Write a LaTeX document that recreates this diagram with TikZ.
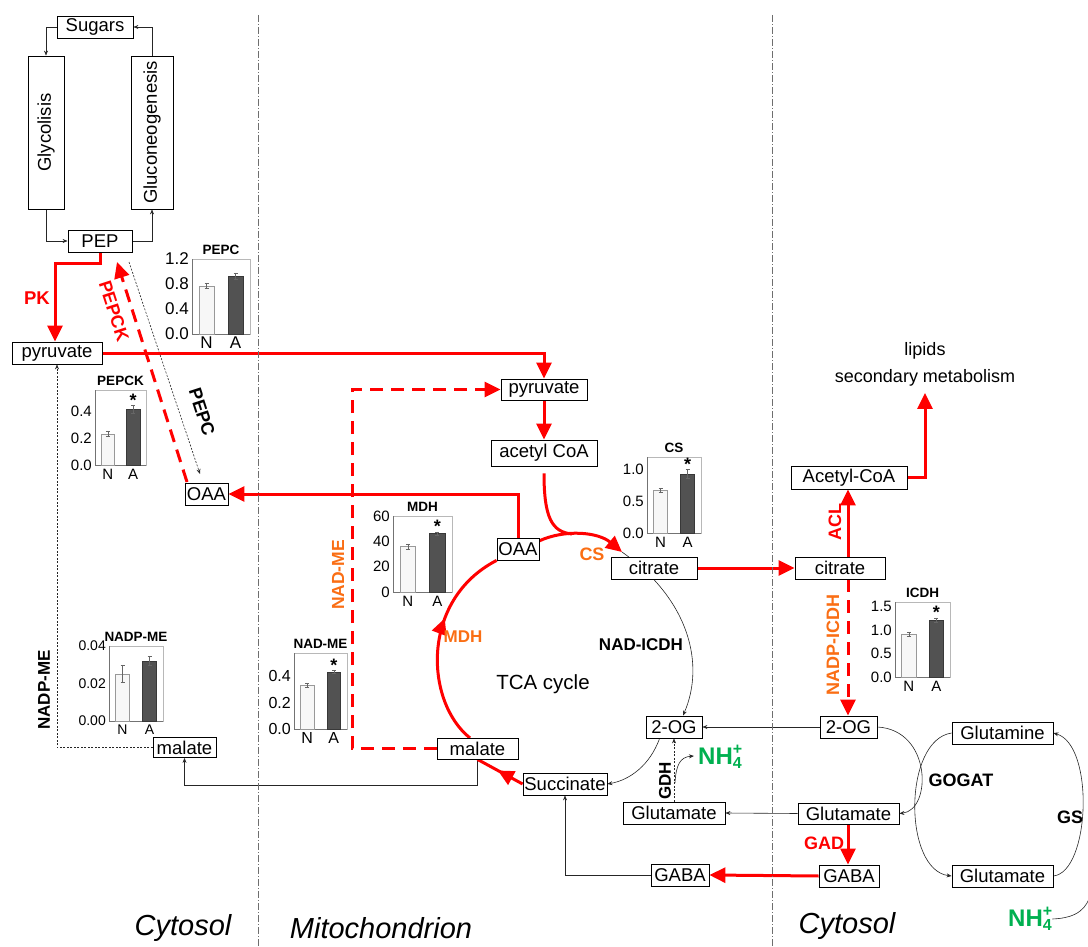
\documentclass[tikz,border=0pt]{standalone}
\usepackage{fontspec}
\setmainfont{Liberation Sans}
\usetikzlibrary{arrows.meta,calc,decorations.markings}
\definecolor{rd}{RGB}{255,0,0}
\definecolor{org}{RGB}{250,110,20}
\definecolor{grn}{RGB}{0,176,80}
\definecolor{divgray}{RGB}{110,110,110}
\newcommand{\fs}[1]{\fontsize{#1}{#1}\selectfont}
\newcommand{\nhfour}{NH\rlap{\raisebox{-0.35ex}{\fs{16}4}}\raisebox{0.75ex}{\fs{16}+}}
\pgfdeclarelayer{bg}
\pgfsetlayers{bg,main}
\tikzset{
 box/.style={draw, line width=0.8pt, fill=white, inner sep=0pt, font=\fs{18.5}},
 redline/.style={draw=rd, line width=3pt},
 redarr/.style={redline, -{Triangle[width=15pt,length=16pt]}},
 reddash/.style={redarr, dash pattern=on 13pt off 8pt},
 thinline/.style={draw=black!85, line width=0.6pt},
 thinarr/.style={thinline, -{Stealth[length=5pt,width=4pt]}},
 dotarr/.style={thinarr, dash pattern=on 2pt off 1.5pt},
 divider/.style={draw=divgray, line width=0.8pt, dash pattern=on 7pt off 2pt on 1pt off 2pt},
 lblred/.style={text=rd, font=\bfseries\fs{17.5}},
 lblorg/.style={text=org, font=\bfseries\fs{17.5}},
 lblblk/.style={font=\bfseries\fs{16.5}},
 chframe/.style={draw=black!28, line width=0.7pt},
 chaxis/.style={draw=black!55, line width=0.8pt},
 barN/.style={fill=black!3, draw=black!40, line width=0.6pt},
 barA/.style={fill=black!68, draw=black!78, line width=0.6pt},
 errbar/.style={draw=black!60, line width=0.5pt},
 chtitle/.style={font=\bfseries\fs{13.5}},
 nhlbl/.style={text=grn, font=\bfseries\fs{24}, anchor=west, inner sep=0pt},
 comp/.style={font=\itshape\fs{29}},
 midarrow/.style={postaction={decorate}, decoration={markings, mark=at position #1 with {\arrow[color=rd]{Triangle[width=15pt,length=16pt]}}}}
}
% chart helpers
\newcommand{\chartframe}[7]{%
 \def\cn{#1}\def\cxa{#2}\def\cya{#3}\def\cxb{#4}\def\cyb{#5}\def\cfs{#7}%
 \draw[chframe] (#2,#3) rectangle (#4,#5);
 \draw[chaxis] (#2,#3) -- (#2,#5) -- (#4,#5);
 \node[chtitle] (#1-title) at ({(#2+#4)/2},{#3-9}) {#6};
 \node[font=\fs{#7}] (#1-N) at ({#2+0.25*(#4-#2)},{#5+9}) {N};
 \node[font=\fs{#7}] (#1-A) at ({#2+0.75*(#4-#2)},{#5+9}) {A};
}
\newcommand{\chartbars}[6]{%
 \pgfmathsetmacro\chH{\cyb-\cya}%
 \pgfmathsetmacro\chW{\cxb-\cxa}%
 \pgfmathsetmacro\chNt{\cyb-\chH*#2/#1}%
 \pgfmathsetmacro\chAt{\cyb-\chH*#4/#1}%
 \pgfmathsetmacro\chNe{\chH*#3/#1}%
 \pgfmathsetmacro\chAe{\chH*#5/#1}%
 \draw[barN] ({\cxa+0.12*\chW},\cyb) rectangle ({\cxa+0.38*\chW},\chNt);
 \draw[barA] ({\cxa+0.62*\chW},\cyb) rectangle ({\cxa+0.88*\chW},\chAt);
 \draw[errbar] ({\cxa+0.25*\chW},{\chNt-\chNe}) -- ({\cxa+0.25*\chW},{\chNt+\chNe})
   ({\cxa+0.25*\chW-2},{\chNt-\chNe}) -- ++(4,0) ({\cxa+0.25*\chW-2},{\chNt+\chNe}) -- ++(4,0);
 \draw[errbar] ({\cxa+0.75*\chW},{\chAt-\chAe}) -- ({\cxa+0.75*\chW},{\chAt+\chAe})
   ({\cxa+0.75*\chW-2},{\chAt-\chAe}) -- ++(4,0) ({\cxa+0.75*\chW-2},{\chAt+\chAe}) -- ++(4,0);
 \ifnum#6=1 \node[font=\bfseries\fs{18}, anchor=base, inner sep=0pt] (\cn-star) at ({\cxa+0.75*\chW},{\chAt-\chAe+1}) {*};\fi
}
\newcommand{\charttick}[3]{%
 \node[font=\fs{\cfs}, anchor=east, inner sep=0pt] (\cn-#1) at ({\cxa-3},{\cyb-(\cyb-\cya)*#2}) {#3};}
\begin{document}
\begin{tikzpicture}[x=1pt,y=-1pt]
\useasboundingbox (0,0) rectangle (1088,947);
% dividers
\draw[divider] (258,15) -- (258,947);
\draw[divider] (772,15) -- (772,947);
% boxes
\node[box, minimum width=76, minimum height=22] (Sug) at (95,27) {Sugars};
\node[box, rotate=90, minimum width=153, minimum height=36] (Glyc) at (46,132.5) {Glycolisis};
\node[box, rotate=90, minimum width=153, minimum height=42] (Gluc) at (152,132.5) {Gluconeogenesis};
\node[box, minimum width=64, minimum height=22] (PEP) at (100,241) {PEP};
\node[box, minimum width=90, minimum height=22] (pyruL) at (57,353) {pyruvate};
\node[box, minimum width=43, minimum height=22] (OAAL) at (206.5,494) {OAA};
\node[box, minimum width=63, minimum height=20] (malL) at (184.5,747.5) {malate};
\node[box, minimum width=86, minimum height=21] (pyruM) at (544,389.5) {pyruvate};
\node[box, minimum width=106, minimum height=26] (acet) at (544,453) {acetyl CoA};
\node[box, minimum width=42, minimum height=22] (OAAM) at (518,549) {OAA};
\node[box, minimum width=86, minimum height=22] (citM) at (654,568) {citrate};
\node[box, minimum width=90, minimum height=22] (citR) at (840,568) {citrate};
\node[box, minimum width=116, minimum height=23] (AcR) at (849,477.5) {Acetyl-CoA};
\node[box, minimum width=56, minimum height=22] (OGM) at (674,727) {2-OG};
\node[box, minimum width=84, minimum height=22] (Succ) at (565,784) {Succinate};
\node[box, minimum width=102, minimum height=22] (GluM) at (674,813) {Glutamate};
\node[box, minimum width=58, minimum height=22] (GABAM) at (680,875) {GABA};
\node[box, minimum width=81, minimum height=21] (malM) at (477.5,748.5) {malate};
\node[box, minimum width=57, minimum height=22] (OGR) at (848.5,727) {2-OG};
\node[box, minimum width=101, minimum height=21] (GluR) at (848.5,813.5) {Glutamate};
\node[box, minimum width=60, minimum height=22] (GABAR) at (849,876) {GABA};
\node[box, minimum width=101, minimum height=22] (Gln) at (1002.5,733) {Glutamine};
\node[box, minimum width=101, minimum height=22] (GluFR) at (1002.5,876) {Glutamate};
\node[font=\fs{18}] (lip) at (925,351) {lipids};
\node[font=\fs{18}] (secm) at (925,378) {secondary metabolism};
\node[font=\fs{20.5}] (tca) at (543,684) {TCA cycle};
\node[nhlbl] (nh4a) at (698,757) {\nhfour};
\node[nhlbl] (nh4b) at (1008,919) {\nhfour};
% helper coordinates
\coordinate (pkturn) at (0,263);
\coordinate (nadme) at (352,600);
\coordinate (mrow) at (0,785);
\coordinate (col) at (848,0);
\coordinate (pepckTip) at (117,262);
\coordinate (pepckStart) at (187,482);
\coordinate (pepcStart) at (129,262);
\coordinate (pepcEnd) at (200,474);
\coordinate (cittip) at (622,552);
\coordinate (csjoin) at (572,534);
\coordinate (oaaout) at (539,541);
\coordinate (gdhs) at (675,783);
\coordinate (gdhe) at (694,756);
\coordinate (gsjoin) at (1091,893);
\coordinate (malin) at (470,738);
\begin{pgfonlayer}{bg}
% sugar cycle
\draw[thinarr] (Sug.west) -| (Glyc.east);
\draw[thinarr] (Glyc.west) |- (PEP.west);
\draw[thinarr] (PEP.east) -| (Gluc.west);
\draw[thinarr] (Gluc.east) |- (Sug.east);
% red pathways
\draw[redarr] (PEP.south) -- (PEP.south |- pkturn) -| ($(pyruL.north)+(-2,0)$);
\draw[reddash] (pepckStart) -- (pepckTip);
\draw[dotarr] (pepcStart) -- (pepcEnd);
\draw[redarr] (pyruL.east) -| (pyruM.north);
\draw[redarr] (pyruM.south) -- (acet.north);
\draw[redarr] (OAAM.north) |- (OAAL.east);
\draw[reddash] (malM.west) -- (malM.west -| nadme) -- (nadme |- pyruM.west) -- (pyruM.west);
\draw[dotarr] (malL.west) -- (malL.west -| pyruL.south) -- (pyruL.south);
\draw[thinarr] (malM.south) -- (malM.south |- mrow) -| (malL.south);
\draw[redline] ($(acet.south)+(0,7)$) .. controls (544,518) and (552,532) .. (csjoin);
\draw[redarr] (oaaout) .. controls (565,529) and (598,532) .. (cittip);
\draw[redline, midarrow=0.62] (malin) .. controls (425,702) and (420,600) .. (OAAM.south west);
\draw[redline, midarrow=0.55] (Succ.west) -- (malM.south);
\draw[thinarr] (cittip) .. controls (690,600) and (705,665) .. ($(OGM.north)+(9,0)$);
\draw[thinarr] ($(OGM.south west)+(14,0)$) .. controls (650,765) and (630,780) .. (Succ.east);
\draw[redarr] (citM.east) -- (citR.west);
\draw[redarr] (citR.north -| col) -- (AcR.south -| col);
\draw[redarr] (AcR.east) -| ($(secm.south)+(0,3)$);
\draw[reddash] (citR.south -| col) -- (OGR.north -| col);
\draw[thinarr] (OGR.west) -- (OGM.east);
\draw[thinarr] (GluR.west) -- (GluM.east);
\draw[dotarr] (GluM.north) -- (OGM.south);
\draw[thinarr] (gdhs) .. controls (676,765) and (680,757) .. (gdhe);
\draw[redarr] (GluR.south -| col) -- (GABAR.north -| col);
\draw[redarr] (GABAR.west) -- (GABAM.east);
\draw[thinarr] (GABAM.west) -| (Succ.south);
\draw[thinarr] (OGR.east) .. controls (932,730) and (932,810) .. (GluR.east);
\draw[thinarr] (Gln.west) .. controls (903,740) and (903,870) .. (GluFR.west);
\draw[thinarr] (GluFR.east) .. controls (1090,872) and (1095,745) .. (Gln.east);
\draw[thinline] (nh4b.east) .. controls (1078,918) and (1087,908) .. (gsjoin);
\end{pgfonlayer}
% labels
\node[lblred, font=\bfseries\fs{18.5}] (pk) at (37,298) {PK};
\node[lblred, font=\bfseries\fs{18}, rotate=-72] (pepckl) at (114,311) {PEPCK};
\node[lblblk, font=\bfseries\fs{18}, rotate=-72] (pepcl) at (202,412) {PEPC};
\node[lblblk, font=\bfseries\fs{17}, rotate=90] (nadpmel) at (44,690) {NADP-ME};
\node[lblorg, rotate=90] (nadmel) at (338,575) {NAD-ME};
\node[lblorg, font=\bfseries\fs{17}] (mdhl) at (463,637) {MDH};
\node[lblorg, font=\bfseries\fs{18}] (csl) at (592,554) {CS};
\node[lblblk, font=\bfseries\fs{17}] (icdhl) at (641,645) {NAD-ICDH};
\node[lblblk, font=\bfseries\fs{17}, rotate=90] (gdhl) at (665,781) {GDH};
\node[lblred, font=\bfseries\fs{18}, rotate=90] (acll) at (835,522) {ACL};
\node[lblorg, font=\bfseries\fs{18}, rotate=90] (nadpicdhl) at (833,645) {NADP-ICDH};
\node[lblred, font=\bfseries\fs{18}] (gadl) at (824,843) {GAD};
\node[lblblk, font=\bfseries\fs{18}] (gogatl) at (961,780) {GOGAT};
\node[lblblk, font=\bfseries\fs{18}] (gsl) at (1070,817) {GS};
\node[comp] (cyt1) at (183,928) {Cytosol};
\node[comp] (mito) at (381,928) {Mitochondrion};
\node[comp] (cyt2) at (847,926) {Cytosol};
% charts
\chartframe{pepc}{192}{259}{250}{334}{PEPC}{17}
\chartbars{1.2}{0.77}{0.04}{0.93}{0.05}{0}
\charttick{t1}{1}{1.2}\charttick{t2}{0.6667}{0.8}\charttick{t3}{0.3333}{0.4}\charttick{t4}{0}{0.0}
\chartframe{pepck}{95}{390}{146}{465}{PEPCK}{15}
\chartbars{0.556}{0.23}{0.018}{0.41}{0.03}{1}
\charttick{t1}{0.72}{0.4}\charttick{t2}{0.36}{0.2}\charttick{t3}{0}{0.0}
\chartframe{mdh}{393}{516}{452}{592}{MDH}{15}
\chartbars{60}{36}{2}{46}{1.5}{1}
\charttick{t1}{1}{60}\charttick{t2}{0.6667}{40}\charttick{t3}{0.3333}{20}\charttick{t4}{0}{0}
\chartframe{cs}{647}{457}{701}{533}{CS}{15}
\chartbars{1.2}{0.68}{0.03}{0.93}{0.07}{1}
\charttick{t1}{0.8333}{1.0}\charttick{t2}{0.4167}{0.5}\charttick{t3}{0}{0.0}
\chartframe{icdh}{895}{602}{950}{677}{ICDH}{15}
\chartbars{1.6}{0.92}{0.04}{1.21}{0.05}{1}
\charttick{t1}{0.9375}{1.5}\charttick{t2}{0.625}{1.0}\charttick{t3}{0.3125}{0.5}\charttick{t4}{0}{0.0}
\chartframe{nadpme}{109}{646}{163}{721}{NADP-ME}{14}
\chartbars{0.04}{0.025}{0.0045}{0.032}{0.0025}{0}
\charttick{t1}{1}{0.04}\charttick{t2}{0.5}{0.02}\charttick{t3}{0}{0.00}
\chartframe{nadme}{294}{653}{347}{729}{NAD-ME}{16}
\chartbars{0.574}{0.33}{0.015}{0.43}{0.01}{1}
\charttick{t1}{0.697}{0.4}\charttick{t2}{0.348}{0.2}\charttick{t3}{0}{0.0}
\end{tikzpicture}
\end{document}
